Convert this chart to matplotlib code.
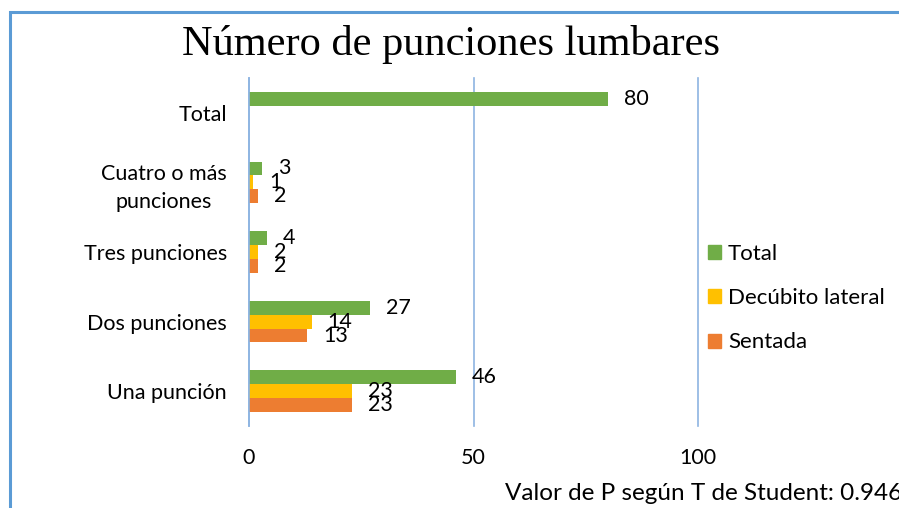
import numpy as np
import matplotlib.pyplot as plt
from matplotlib.patches import Rectangle, Patch

# Data
categories = ["Una punción", "Dos punciones", "Tres punciones",
              "Cuatro o más\npunciones", "Total"]
total = [46, 27, 4, 3, 80]
decubito = [23, 14, 2, 1, None]
sentada = [23, 13, 2, 2, None]
x_ticks = [0, 50, 100]

green = "#70AD47"
yellow = "#FFC000"
orange = "#ED7D31"
grid_col = "#8DB4E2"
frame_col = "#5B9BD5"

plt.rcParams['font.family'] = ['Lato', 'DejaVu Sans']

fig = plt.figure(figsize=(8.99, 5.08), dpi=100)
ax = fig.add_axes([249/899, 1-426/508, (698-249)/899, (426-78)/508])

y = np.arange(len(categories))
h = 0.2
series = [(total, green, h, "Total"),
          (decubito, yellow, 0, "Decúbito lateral"),
          (sentada, orange, -h, "Sentada")]

for vals, col, off, name in series:
    for i, v in enumerate(vals):
        if v is None:
            continue
        ax.barh(y[i] + off, v, height=h, color=col)
        ax.text(v + 3.5, y[i] + off, str(v), va="center", ha="left",
                fontsize=15.5, color="black")

ax.set_xlim(0, 100)
ax.set_ylim(-0.5, 4.5)
ax.set_xticks(x_ticks)
ax.set_yticks(y)
ax.set_yticklabels(categories, multialignment="center", linespacing=1.45)
ax.tick_params(axis="both", length=0, labelsize=15.5)
ax.tick_params(axis="x", pad=16)
ax.tick_params(axis="y", pad=16)
ax.xaxis.grid(True, color=grid_col, linewidth=1.2)
for gl in ax.get_xgridlines():
    gl.set_clip_on(False)
ax.set_axisbelow(True)
for s in ["top", "right", "bottom"]:
    ax.spines[s].set_visible(False)
ax.spines["left"].set_color(grid_col)
ax.spines["left"].set_linewidth(1.2)

# Title and footnote
fig.text(0.502, 1-45/508, "Número de punciones lumbares", ha="center",
         va="center", fontsize=30.5, family="Liberation Serif")
fig.text(505/899, 1-494/508, "Valor de P según T de Student: 0.946",
         ha="left", va="center", fontsize=17.5)

# Legend
handles = [Patch(color=c, label=n) for _, c, _, n in series]
fig.legend(handles=handles, loc="center left",
           bbox_to_anchor=(708/899, 1-298/508), frameon=False,
           fontsize=16, handlelength=0.6, handleheight=0.6,
           handletextpad=0.3, labelspacing=1.1, borderpad=0,
           borderaxespad=0)

# Outer frame
fig.patches.append(Rectangle((10/899, -0.1), 1.0, 1-12/508+0.1,
                             transform=fig.transFigure, fill=False,
                             edgecolor=frame_col, linewidth=2.2))

fig.savefig("out.png", dpi=100)
